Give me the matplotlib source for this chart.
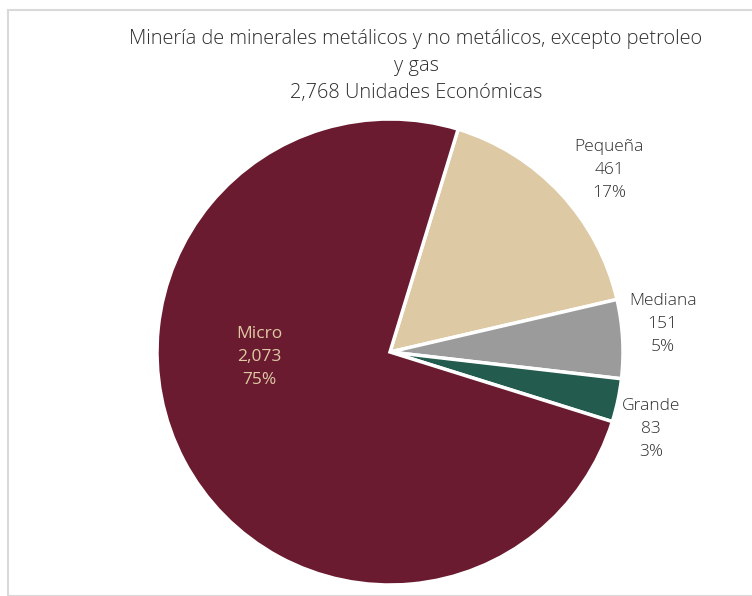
import matplotlib.pyplot as plt
from matplotlib.patches import Rectangle

plt.rcParams['font.family'] = ['Open Sans', 'DejaVu Sans']

# data
categories = ['Pequeña', 'Mediana', 'Grande', 'Micro']
units = [461, 151, 83, 2073]
pcts = ['17%', '5%', '3%', '75%']
colors = ['#DDC9A3', '#9B9B9B', '#235B4E', '#6B1B30']
title = 'Minería de minerales metálicos y no metálicos, excepto petroleo\ny gas\n2,768 Unidades Económicas'

W, H = 752, 596
fig = plt.figure(figsize=(W / 100, H / 100), dpi=100)

# light frame around the chart
fig.patches.append(Rectangle((8 / W, 0), 1, (H - 10) / H, transform=fig.transFigure,
                             fill=False, edgecolor='#D9D9D9', linewidth=1.5))

cx, cy, r = 390, 352, 233
ax = fig.add_axes([(cx - r) / W, (H - cy - r) / H, 2 * r / W, 2 * r / H])
ax.pie(units, colors=colors, startangle=73, counterclock=False, radius=1,
       wedgeprops=dict(edgecolor='white', linewidth=2.5))
ax.set_xlim(-1, 1)
ax.set_ylim(-1, 1)
ax.axis('off')

# label positions in pie units
label_pos = [(0.94, 0.78), (1.17, 0.12), (1.12, -0.33), (-0.56, -0.02)]
for cat, u, p, (lx, ly) in zip(categories, units, pcts, label_pos):
    inside = cat == 'Micro'
    ax.text(lx, ly, f'{cat}\n{u:,}\n{p}', ha='center', va='center', fontsize=12.5,
            fontweight='normal' if inside else 'light',
            color='#DDC9A3' if inside else '#2E2E2E', linespacing=1.57, clip_on=False)

fig.text(416 / W, 1 - 66 / H, title, ha='center', va='center', fontsize=14.4,
         fontweight='light', color='#2E2E2E', linespacing=1.45)

fig.savefig('out.png', dpi=100)
